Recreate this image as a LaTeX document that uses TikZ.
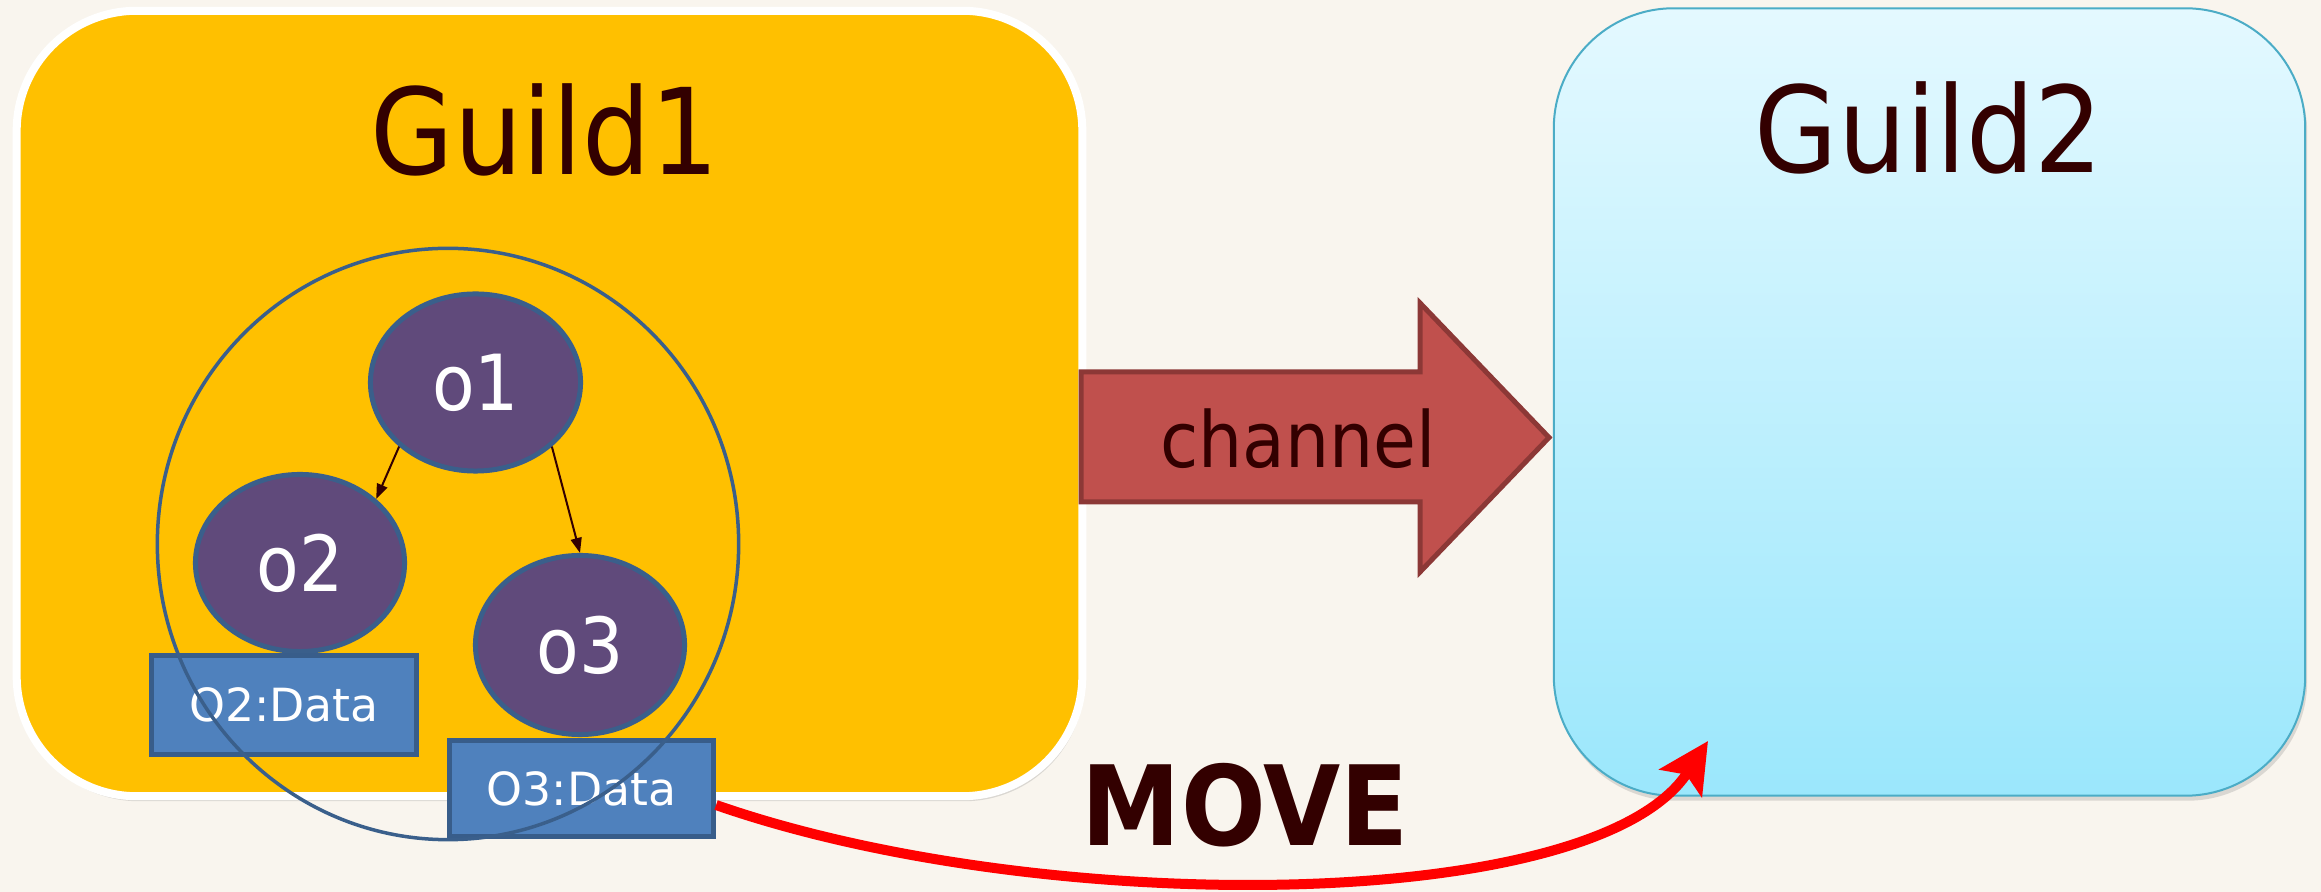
\documentclass[tikz,border=0pt]{standalone}
\usepackage{fontspec}
\setmainfont{DejaVu Sans Condensed}[BoldFont={DejaVu Sans Condensed Bold}]
\newfontfamily\regfont{DejaVu Sans}
\usetikzlibrary{shapes.geometric,arrows.meta,shadows}
\definecolor{bg}{HTML}{F9F5EE}
\definecolor{gold}{HTML}{FFC000}
\definecolor{maroon}{HTML}{330000}
\definecolor{purp}{HTML}{604A7B}
\definecolor{blueline}{HTML}{3A5F8B}
\definecolor{datafill}{HTML}{4F81BD}
\definecolor{dataline}{HTML}{385D8A}
\definecolor{chanfill}{HTML}{C0504D}
\definecolor{chanline}{HTML}{8C3836}
\definecolor{skytop}{HTML}{E4F9FF}
\definecolor{skybot}{HTML}{9BE7FC}
\definecolor{skyline}{HTML}{4BACC6}
\begin{document}
\begin{tikzpicture}[x=0.01cm,y=-0.01cm,
  guild/.style={rectangle, rounded corners=1.2cm, inner sep=0pt,
    drop shadow={shadow xshift=0.02cm, shadow yshift=-0.05cm, opacity=0.25}},
  obj/.style={ellipse, fill=purp, draw=blueline, line width=0.05cm,
    minimum width=2.10cm, minimum height=1.77cm, inner sep=0pt,
    text=white, font=\fontsize{22}{26}\selectfont},
  databox/.style={rectangle, fill=datafill, draw=dataline, line width=0.05cm,
    minimum width=2.65cm, minimum height=0.99cm, inner sep=0pt,
    text=white, font=\regfont\fontsize{13}{16}\selectfont},
  title/.style={text=maroon, font=\fontsize{34}{40}\selectfont, anchor=base, inner sep=0pt},
  link/.style={-{Triangle[length=0.15cm,width=0.11cm]}, line width=0.02cm, draw=maroon},
]
\fill[bg] (0,0) rectangle (2321,892);
\useasboundingbox (0,0) rectangle (2321,892);

\node[guild, fill=gold, draw=white, line width=0.08cm,
  minimum width=10.65cm, minimum height=7.85cm] (g1) at (549.5,403.5) {};
\node[guild, top color=skytop, bottom color=skybot, draw=skyline, line width=0.02cm,
  minimum width=7.51cm, minimum height=7.87cm] (g2) at (1929.5,402) {};

\node[title] (t1) at (545,175) {Guild1};
\node[title] (t2) at (1929,173) {Guild2};

\draw[fill=chanfill, draw=chanline, line width=0.05cm, line join=miter]
  (1081,372) -- (1420,372) -- (1420,303) -- (1549,437.5) -- (1420,572) -- (1420,502) -- (1081,502) -- cycle;
\node[text=maroon, font=\fontsize{22}{26}\selectfont, anchor=base, inner sep=0pt] (chan) at (1298,468) {channel};

\node[obj] (o1) at (475.5,382.5) {o1};
\node[obj, minimum width=2.09cm, minimum height=1.77cm] (o2) at (300,563) {o2};
\node[obj, minimum width=2.09cm, minimum height=1.79cm] (o3) at (580,645) {o3};

\draw[link] (o1.220) -- (o2.40);
\draw[link] (o1.320) -- (o3.90);

\node[databox] (d2) at (284,705) {O2:Data};
\node[databox, minimum width=2.64cm, minimum height=0.96cm] (d3) at (581.5,788.5) {O3:Data};

\node[ellipse, draw=blueline, line width=0.035cm, minimum width=5.81cm,
  minimum height=5.91cm, inner sep=0pt] (grp) at (448,544) {};

\coordinate (mv) at (1708,741);
\draw[red, line width=0.1cm, -{Stealth[length=0.5cm,width=0.5cm,inset=0.1cm]}]
  (d3.-7) .. controls (1040,918) and (1595,915) .. (mv);

\node[text=maroon, font=\bfseries\fontsize{31.5}{36}\selectfont, anchor=base, inner sep=0pt] (move) at (1245,846) {MOVE};
\end{tikzpicture}
\end{document}
